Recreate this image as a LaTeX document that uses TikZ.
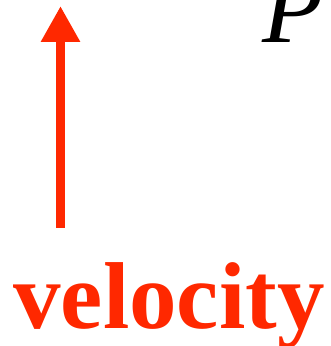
\documentclass[tikz,border=0pt]{standalone}
\usepackage{fontspec}
\setmainfont{Liberation Serif}
\usetikzlibrary{arrows.meta}
\definecolor{velred}{RGB}{255,40,0}
\tikzset{
  vector/.style={
    -{Triangle[length=36pt,width=37pt]},
    line width=9pt,
    draw=velred
  },
  label/.style={
    font=\fontsize{95}{95}\selectfont\bfseries,
    text=velred,
    inner sep=0pt
  },
  symbol/.style={
    font=\fontsize{100}{100}\selectfont\itshape,
    inner sep=0pt
  }
}

\begin{document}
\begin{tikzpicture}[x=1pt,y=1pt]
  \useasboundingbox (0,0) rectangle (331,346);

  % Vector arrow and its name.
  \coordinate (tail) at (60.5,118);
  \coordinate (tip) at (60.5,340);
  \draw[vector] (tail) -- (tip);

  \node[label,anchor=base] (vel) at (169,17) {velocity};

  % Symbol in the upper corner, partly cut by the page.
  \node[symbol,anchor=base west] (sym) at (262,303) {P};
\end{tikzpicture}
\end{document}
